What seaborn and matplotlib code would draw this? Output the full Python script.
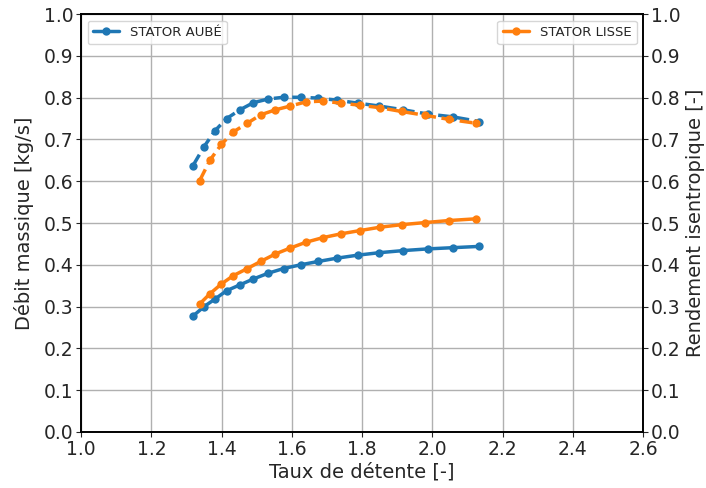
import numpy as np
import pandas as pd
import matplotlib
matplotlib.use("Agg")
import matplotlib.pyplot as plt
from matplotlib.lines import Line2D
import seaborn as sns

# Stator aubé
taux_aube = [1.318, 1.350, 1.381, 1.414, 1.452, 1.490, 1.533, 1.576, 1.625,
             1.675, 1.729, 1.787, 1.849, 1.917, 1.986, 2.059, 2.133]
debit_aube = [0.277, 0.300, 0.318, 0.338, 0.352, 0.366, 0.380, 0.391, 0.400,
              0.408, 0.416, 0.423, 0.429, 0.434, 0.438, 0.441, 0.444]
rend_aube = [0.637, 0.683, 0.721, 0.750, 0.771, 0.788, 0.797, 0.801, 0.801,
             0.799, 0.794, 0.787, 0.780, 0.771, 0.761, 0.754, 0.743]

# Stator lisse
taux_lisse = [1.337, 1.367, 1.399, 1.433, 1.473, 1.511, 1.553, 1.595, 1.640,
              1.688, 1.739, 1.794, 1.851, 1.912, 1.978, 2.048, 2.123]
debit_lisse = [0.306, 0.331, 0.354, 0.374, 0.391, 0.408, 0.426, 0.440, 0.454,
               0.465, 0.474, 0.482, 0.490, 0.496, 0.501, 0.506, 0.510]
rend_lisse = [0.601, 0.651, 0.688, 0.718, 0.739, 0.759, 0.771, 0.780, 0.790,
              0.792, 0.787, 0.782, 0.776, 0.767, 0.758, 0.748, 0.739]

BLUE = "#1f77b4"
ORANGE = "#ff7f0e"

sns.set_style("ticks")
plt.rcParams["font.family"] = ["DejaVu Sans"]

df_aube = pd.DataFrame({"taux": taux_aube, "debit": debit_aube, "rend": rend_aube})
df_lisse = pd.DataFrame({"taux": taux_lisse, "debit": debit_lisse, "rend": rend_lisse})

fig = plt.figure(figsize=(7.06, 4.88), dpi=100)
ax1 = fig.add_axes([0.115, 0.115, 0.796, 0.856])
ax2 = ax1.twinx()

# débit : traits pleins, rendement : tirets
kw = dict(marker="o", markersize=6, linewidth=2.5, markeredgewidth=0)
sns.lineplot(data=df_aube, x="taux", y="debit", ax=ax1, color=BLUE, **kw)
sns.lineplot(data=df_lisse, x="taux", y="debit", ax=ax1, color=ORANGE, **kw)
sns.lineplot(data=df_aube, x="taux", y="rend", ax=ax2, color=BLUE,
             linestyle=(0, (3.7, 1.6)), **kw)
sns.lineplot(data=df_lisse, x="taux", y="rend", ax=ax2, color=ORANGE,
             linestyle=(0, (3.7, 1.6)), **kw)

for ax in (ax1, ax2):
    ax.set_ylim(0, 1.0)
    ax.set_yticks(np.arange(0, 1.01, 0.1))
    ax.tick_params(labelsize=13.5, direction="out", length=3.5, width=0.8, pad=2)
    for s in ax.spines.values():
        s.set_visible(True)
        s.set_color("black")
        s.set_linewidth(1.2)

ax1.set_xlim(1.0, 2.6)
ax1.set_xticks(np.arange(1.0, 2.61, 0.2))
ax1.grid(True, color="#b0b0b0", linewidth=1)
ax1.set_xlabel("Taux de détente [-]", fontsize=14, labelpad=3)
ax1.set_ylabel("Débit massique [kg/s]", fontsize=14, labelpad=7)
ax2.set_ylabel("Rendement isentropique [-]", fontsize=14, labelpad=4)

h_aube = [Line2D([], [], color=BLUE, marker="o", markersize=6,
                 linewidth=2.5, markeredgewidth=0)]
h_lisse = [Line2D([], [], color=ORANGE, marker="o", markersize=6,
                  linewidth=2.5, markeredgewidth=0)]
ax1.legend(h_aube, ["STATOR AUBÉ"], loc="upper left", fontsize=9.5)
ax2.legend(h_lisse, ["STATOR LISSE"], loc="upper right", fontsize=9.5)

fig.savefig("out.png", dpi=100)
